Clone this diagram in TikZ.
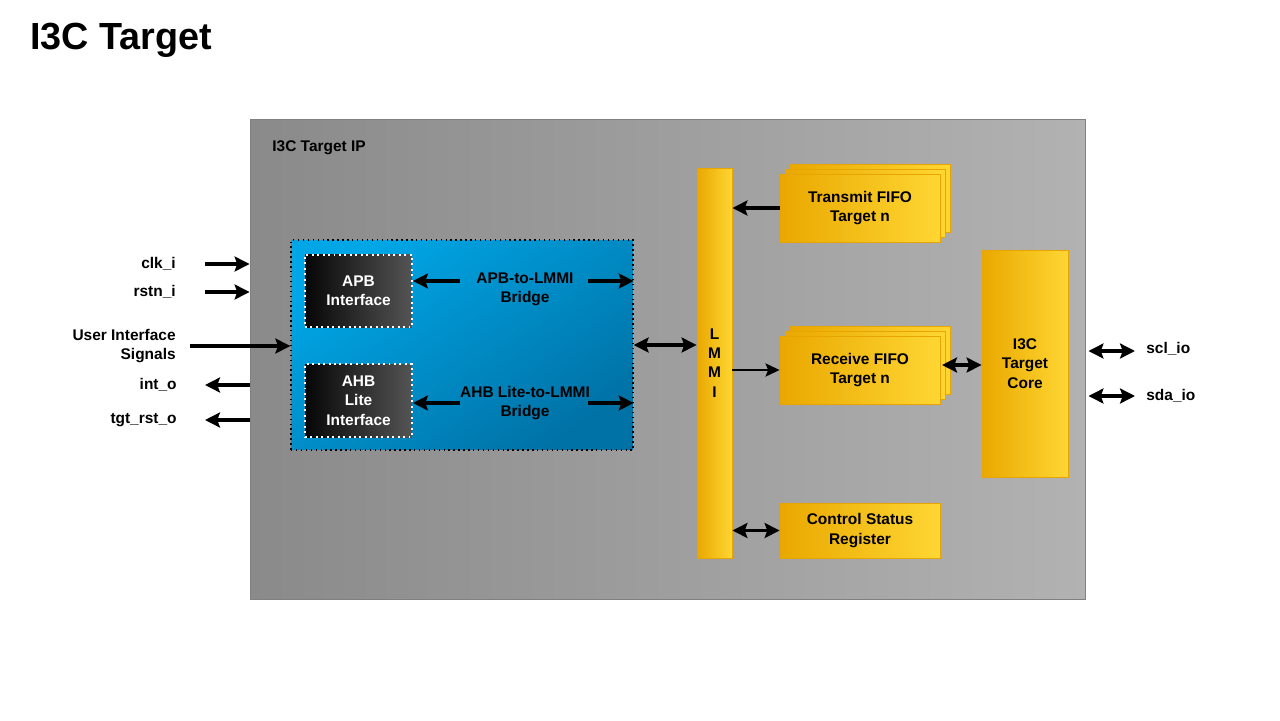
\documentclass[tikz,border=0pt]{standalone}
\usepackage{fontspec}
\setmainfont{Liberation Sans}
\usetikzlibrary{arrows.meta,calc}
\definecolor{ipgrayl}{HTML}{8A8A8A}
\definecolor{ipgrayr}{HTML}{B2B2B2}
\definecolor{ipedge}{HTML}{808080}
\definecolor{bluetl}{HTML}{00A6E6}
\definecolor{bluebr}{HTML}{0072A6}
\definecolor{ifl}{HTML}{060606}
\definecolor{ifr}{HTML}{545454}
\definecolor{orgl}{HTML}{E9A800}
\definecolor{orgr}{HTML}{FFD633}
\definecolor{orgedge}{HTML}{E8A400}
\tikzset{
    ipbox/.style = {draw=ipedge, line width=0.6pt, left color=ipgrayl, right color=ipgrayr,
        minimum width=16.72cm, minimum height=9.62cm, inner sep=0},
    bridgebox/.style = {draw, dotted, line width=0.8pt, top color=bluetl, bottom color=bluebr,
        shading angle=35, minimum width=6.84cm, minimum height=4.2cm, inner sep=0},
    ifbox/.style = {draw=white, dotted, line width=1.1pt, left color=ifl, right color=ifr,
        text=white, minimum width=2.14cm, minimum height=1.45cm, align=center},
    fifo/.style = {draw=orgedge, line width=0.5pt, left color=orgl, right color=orgr,
        minimum width=3.2cm, minimum height=1.36cm, align=center},
    siglbl/.style = {inner sep=0, align=right},
    sig/.style = {draw, line width=2pt, -{Stealth[length=8.5pt,width=8.5pt,inset=1.5pt]}},
    dsig/.style = {draw, line width=2pt,
        {Stealth[length=8.5pt,width=8.5pt,inset=1.5pt]}-{Stealth[length=8.5pt,width=8.5pt,inset=1.5pt]}},
    thinsig/.style = {draw, line width=1.1pt, -{Stealth[length=8pt,width=7.5pt,inset=1.5pt]}}
}

\begin{document}
\begin{tikzpicture}[x=0.02cm, y=-0.02cm,
    font=\bfseries\fontsize{8.8}{11}\selectfont]
    \path[use as bounding box, fill=white] (0,0) rectangle (1280,720);
    \node[anchor=west, inner sep=0, font=\bfseries\fontsize{21.5}{25}\selectfont] (title) at (30,40) {I3C Target};

    % IP block
    \node[ipbox] (ip) at (668,359.5) {};
    \node[anchor=west, inner sep=0] (iplbl) at (272,148) {I3C Target IP};

    % bus bridge
    \node[bridgebox] (bridge) at (462,345) {};
    \node[ifbox] (apb) at (358.5,291) {APB\\Interface};
    \node[ifbox, minimum height=1.46cm] (ahb) at (358.5,400.5) {AHB\\Lite\\Interface};
    \node[align=center, inner sep=0] (apbb) at (525,289) {APB-to-LMMI\\Bridge};
    \node[align=center, inner sep=0] (ahbb) at (525,403) {AHB Lite-to-LMMI\\Bridge};
    \coordinate (apbr) at (524,281);
    \coordinate (ahbr) at (524,403);

    % LMMI and target blocks
    \node[fifo, minimum width=0.7cm, minimum height=7.8cm] (lmmi) at (714.5,363) {L\\M\\M\\I};
    \node[fifo] (tx3) at (870,198) {};
    \node[fifo] (tx2) at (865,203) {};
    \node[fifo] (tx) at (860,208) {Transmit FIFO\\Target n};
    \node[fifo] (rx3) at (870,360) {};
    \node[fifo] (rx2) at (865,365) {};
    \node[fifo] (rx) at (860,370) {Receive FIFO\\Target n};
    \node[fifo, minimum height=1.1cm] (csr) at (860,530.5) {Control Status\\Register};
    \node[fifo, minimum width=1.72cm, minimum height=4.54cm] (core) at (1025,363.5) {I3C\\Target\\Core};
    \coordinate (rxc) at (942,365);

    % ports
    \node[siglbl, anchor=east] (clk) at (176,264) {clk\_i};
    \node[siglbl, anchor=east] (rstn) at (176,292) {rstn\_i};
    \node[siglbl, anchor=east] (uis) at (176,346) {User Interface\\Signals};
    \node[siglbl, anchor=east] (into) at (177,385) {int\_o};
    \node[siglbl, anchor=east] (tgtrst) at (177,420) {tgt\_rst\_o};
    \node[siglbl, anchor=west] (scl) at (1146,349) {scl\_io};
    \node[siglbl, anchor=west] (sda) at (1146,396) {sda\_io};

    \draw[sig] ([xshift=0.58cm]clk.east) -- (clk.east -| ip.west);
    \draw[sig] ([xshift=0.58cm]rstn.east) -- (rstn.east -| ip.west);
    \draw[sig] ([xshift=0.28cm]uis.east) -- (uis.east -| bridge.west);
    \draw[sig] (into.east -| ip.west) -- ([xshift=0.56cm]into.east);
    \draw[sig] (tgtrst.east -| ip.west) -- ([xshift=0.56cm]tgtrst.east);
    \draw[dsig] ([xshift=0.04cm,yshift=-0.04cm]scl.west -| ip.east) -- ([xshift=-0.22cm,yshift=-0.04cm]scl.west);
    \draw[dsig] ([xshift=0.04cm]sda.west -| ip.east) -- ([xshift=-0.22cm]sda.west);

    \draw[sig] ([xshift=-1.28cm]apbr) -- (apbr -| apb.east);
    \draw[sig] ([xshift=1.28cm]apbr) -- (apbr -| bridge.east);
    \draw[sig] ([xshift=-1.28cm]ahbr) -- (ahbr -| ahb.east);
    \draw[sig] ([xshift=1.28cm]ahbr) -- (ahbr -| bridge.east);
    \draw[dsig] (bridge.east) -- (bridge.east -| lmmi.west);

    \draw[sig] (tx.west) -- (tx.west -| lmmi.east);
    \draw[thinsig] (rx.west -| lmmi.east) -- (rx.west);
    \draw[dsig] (rxc) -- (rxc -| core.west);
    \draw[dsig] (csr.west -| lmmi.east) -- (csr.west);
\end{tikzpicture}
\end{document}
